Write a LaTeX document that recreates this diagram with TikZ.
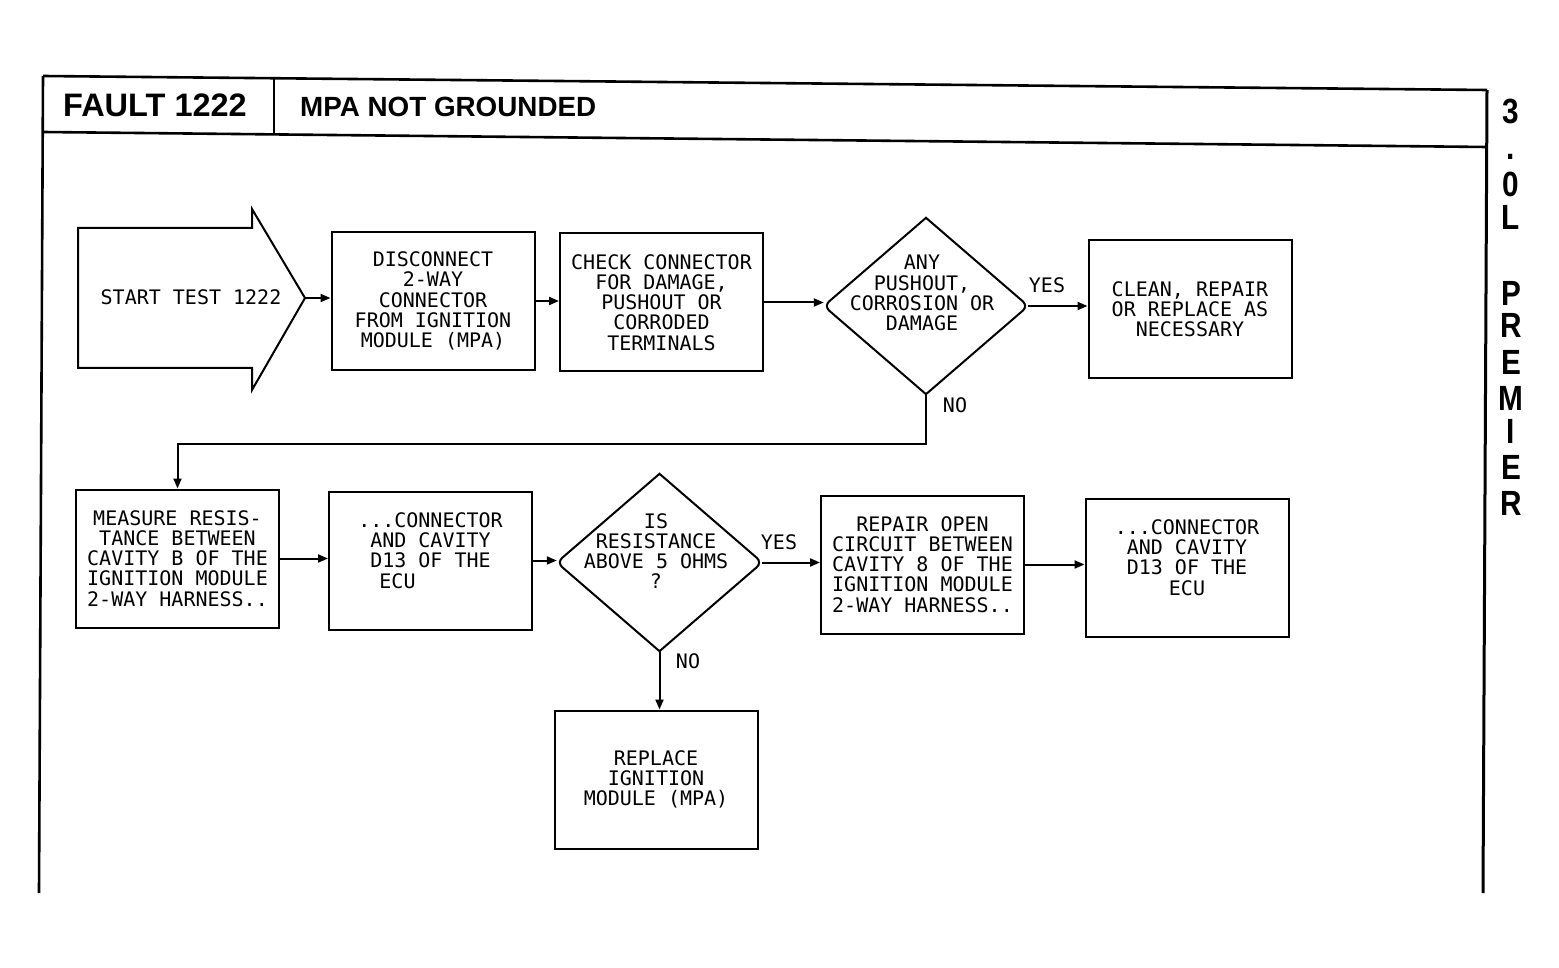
\documentclass[tikz,border=0pt]{standalone}
\usepackage{fontspec}
\setmainfont{Liberation Sans}
\newfontfamily\plotfont{DejaVu Sans Mono}
\newfontfamily\sidefont[FakeStretch=0.85]{Liberation Sans}
\usetikzlibrary{shapes.geometric,arrows.meta}
\begin{document}
\begin{tikzpicture}[x=1pt,y=-1pt,
  plot/.style={font=\plotfont\fontsize{20}{20.2}\selectfont, align=center, inner sep=0pt},
  stepbox/.style={plot, draw, line width=2pt, minimum width=203pt, minimum height=138pt},
  dia/.style={shape=diamond, inner sep=0pt, minimum width=204pt, minimum height=176pt},
  diaedge/.style={line width=2pt, line join=miter},
  conn/.style={line width=2pt, -{Triangle[length=10pt,width=8pt]}},
  frame/.style={line width=2.6pt},
  side/.style={font=\sidefont\bfseries\fontsize{35}{35}\selectfont, inner sep=0pt, anchor=base},
]
\useasboundingbox (0,0) rectangle (1559,968);

% frame
\draw[frame] (43,76) -- (1487,90);
\draw[frame] (43,132) -- (1487,147);
\draw[frame] (43,76) -- (39,893);
\draw[frame, line width=3pt] (1487,90) -- (1483,893);
\draw[line width=2pt] (274,78) -- (274,134);

% header texts
\node[anchor=base west, inner sep=0pt, font=\bfseries\fontsize{32.5}{33}\selectfont] (fault) at (63,117) {FAULT 1222};
\node[anchor=base west, inner sep=0pt, font=\bfseries\fontsize{27.8}{28}\selectfont] (title) at (300,117) {MPA NOT GROUNDED};

% side text
\foreach \ch/\yy [count=\i] in {3/124, ./160, 0/197, L/230, P/306, R/338, E/374, M/410, I/443, E/479, R/515}
  \node[side] (side\i) at (1511,\yy) {\ch};

% start arrow
\draw[line width=2pt, line join=miter] (78,228) -- (252,228) -- (252,209) -- (305,298) -- (252,390) -- (252,368) -- (78,368) -- cycle;
\node[plot] (start) at (191,297) {START TEST 1222};
\coordinate (tip) at (305,298);

% row 1
\node[stepbox] (b1) at (433,301) {DISCONNECT\\2-WAY\\CONNECTOR\\FROM IGNITION\\MODULE (MPA)};
\node[stepbox] (b2) at (661.5,302.5) {CHECK CONNECTOR\\FOR DAMAGE,\\PUSHOUT OR\\CORRODED\\TERMINALS};
\node[dia] (d1) at (926,306) {};
\draw[diaedge] (d1.north) [rounded corners=7pt] -- (d1.east) [sharp corners] -- (d1.south) [rounded corners=7pt] -- (d1.west) [sharp corners] -- cycle;
\node[plot] (d1t) at (922,293) {ANY\\PUSHOUT,\\CORROSION OR\\DAMAGE};
\node[stepbox] (b3) at (1190,309) {CLEAN, REPAIR\\OR REPLACE AS\\NECESSARY};

% row 2
\node[stepbox] (b4) at (177.5,558.5) {MEASURE RESIS-\\TANCE BETWEEN\\CAVITY B OF THE\\IGNITION MODULE\\2-WAY HARNESS..};
\node[stepbox] (b5) at (430.5,560.5) {...CONNECTOR\\AND CAVITY\\D13 OF THE\\ECU\rule{66pt}{0pt}\\\mbox{}};
\node[dia, minimum width=205pt, minimum height=177pt] (d2) at (659.5,562.5) {};
\draw[diaedge] (d2.north) [rounded corners=7pt] -- (d2.east) [sharp corners] -- (d2.south) [rounded corners=7pt] -- (d2.west) [sharp corners] -- cycle;
\node[plot] (d2t) at (656,551) {IS\\RESISTANCE\\ABOVE 5 OHMS\\?};
\node[stepbox] (b6) at (922.5,564.5) {REPAIR OPEN\\CIRCUIT BETWEEN\\CAVITY 8 OF THE\\IGNITION MODULE\\2-WAY HARNESS..};
\node[stepbox] (b7) at (1187,567.5) {...CONNECTOR\\AND CAVITY\\D13 OF THE\\ECU\\\mbox{}};

% row 3
\node[stepbox] (b8) at (656,779.5) {REPLACE\\IGNITION\\MODULE (MPA)};

% labels
\node[plot] (yes1) at (1047,285) {YES};
\node[plot] (no1) at (955,405) {NO};
\node[plot] (yes2) at (779,542) {YES};
\node[plot] (no2) at (688,661) {NO};

% connectors
\draw[conn] (tip) -- (tip -| b1.west);
\draw[conn] (b1.east) -- (b1.east -| b2.west);
\draw[conn] (b2.east) -- (b2.east -| d1.west);
\draw[conn] (d1.east) -- (d1.east -| b3.west);
\draw[conn] (d1.south) -- ++(0,50) -| (b4.north);
\draw[conn] (b4.east) -- (b4.east -| b5.west);
\draw[conn] (b5.east) -- (b5.east -| d2.west);
\draw[conn] (d2.east) -- (d2.east -| b6.west);
\draw[conn] (b6.east) -- (b6.east -| b7.west);
\draw[conn] (d2.south) -- (d2.south |- b8.north);
\end{tikzpicture}
\end{document}
